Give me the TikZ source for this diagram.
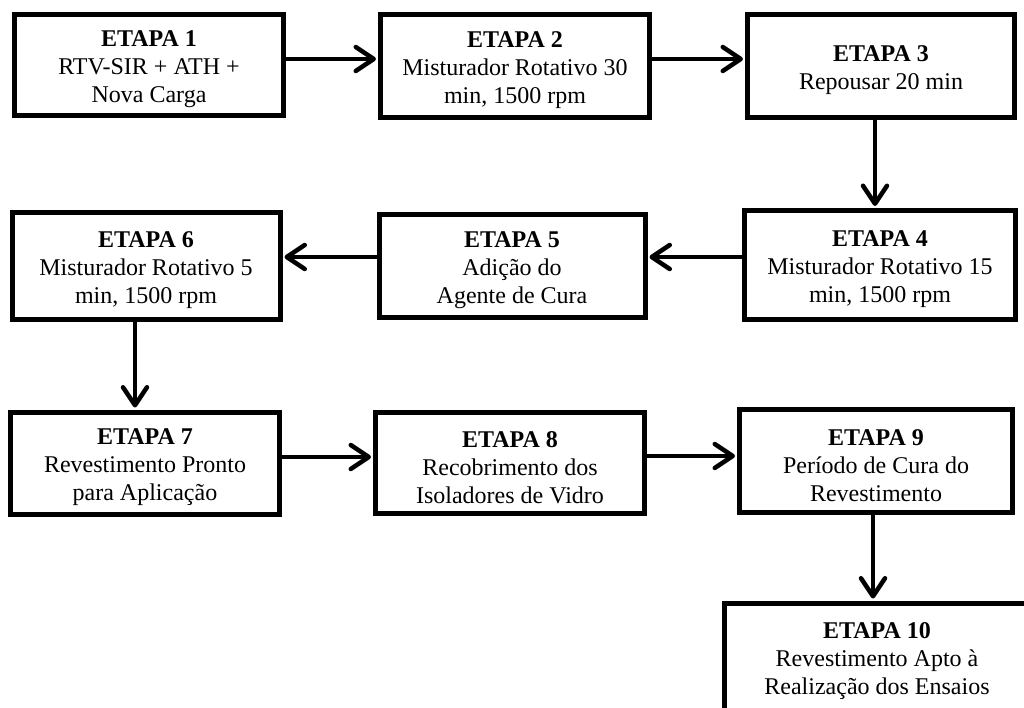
\documentclass[tikz,border=0pt]{standalone}
\usepackage{fontspec}
\setmainfont{Liberation Serif}
\usetikzlibrary{arrows.meta}

\newcommand{\etapatit}[1]{\textbf{\rule{0pt}{25pt}ETAPA #1}}

\tikzset{
  etapa/.style={draw, line width=5pt, align=center, inner sep=0pt,
    font=\fontsize{24}{28}\selectfont},
  seta/.style={line width=4.5pt, shorten >=2pt,
    -{Straight Barb[length=18pt,width=24pt,round]}}
}

\begin{document}
\begin{tikzpicture}[x=1pt, y=-1pt]
  \useasboundingbox (0,0) rectangle (1024,707);
  % linha 1
  \node[etapa, minimum width=269pt, minimum height=101pt] (b1) at (149,65)
    {\etapatit{1}\\RTV-SIR + ATH +\\Nova Carga};
  \node[etapa, minimum width=269pt, minimum height=103pt] (b2) at (515,66)
    {\etapatit{2}\\Misturador Rotativo 30\\min, 1500 rpm};
  \node[etapa, minimum width=267pt, minimum height=103pt] (b3) at (881,66)
    {\etapatit{3}\\Repousar 20 min};
  % linha 2
  \node[etapa, minimum width=271pt, minimum height=109pt] (b4) at (880,265)
    {\etapatit{4}\\Misturador Rotativo 15\\min, 1500 rpm};
  \node[etapa, minimum width=266pt, minimum height=103pt] (b5) at (512,266)
    {\etapatit{5}\\Adição do\\Agente de Cura};
  \node[etapa, minimum width=268pt, minimum height=107pt] (b6) at (146,266)
    {\etapatit{6}\\Misturador Rotativo 5\\min, 1500 rpm};
  % linha 3
  \node[etapa, minimum width=269pt, minimum height=102pt] (b7) at (145,463)
    {\etapatit{7}\\Revestimento Pronto\\para Aplicação};
  \node[etapa, minimum width=269pt, minimum height=101pt] (b8) at (510,463)
    {\etapatit{8}\\Recobrimento dos\\Isoladores de Vidro};
  \node[etapa, minimum width=273pt, minimum height=103pt] (b9) at (876,461)
    {\etapatit{9}\\Período de Cura do\\Revestimento};
  \node[etapa, minimum width=305pt, minimum height=108pt] (b10) at (877,657)
    {\etapatit{10}\\Revestimento Apto à\\Realização dos Ensaios};

  \draw[seta] ([yshift=6pt]b1.east) -- ([yshift=6pt]b1.east -| b2.west);
  \draw[seta] ([yshift=7pt]b2.east) -- ([yshift=7pt]b2.east -| b3.west);
  \draw[seta] ([xshift=-6pt]b3.south) -- ([xshift=-6pt]b3.south |- b4.north);
  \draw[seta] ([yshift=8pt]b4.west) -- ([yshift=8pt]b4.west -| b5.east);
  \draw[seta] ([yshift=9pt]b5.west) -- ([yshift=9pt]b5.west -| b6.east);
  \draw[seta] ([xshift=-11pt]b6.south) -- ([xshift=-11pt]b6.south |- b7.north);
  \draw[seta] ([yshift=6pt]b7.east) -- ([yshift=6pt]b7.east -| b8.west);
  \draw[seta] ([yshift=7pt]b8.east) -- ([yshift=7pt]b8.east -| b9.west);
  \draw[seta] ([xshift=-3pt]b9.south) -- ([xshift=-3pt]b9.south |- b10.north);
\end{tikzpicture}
\end{document}
